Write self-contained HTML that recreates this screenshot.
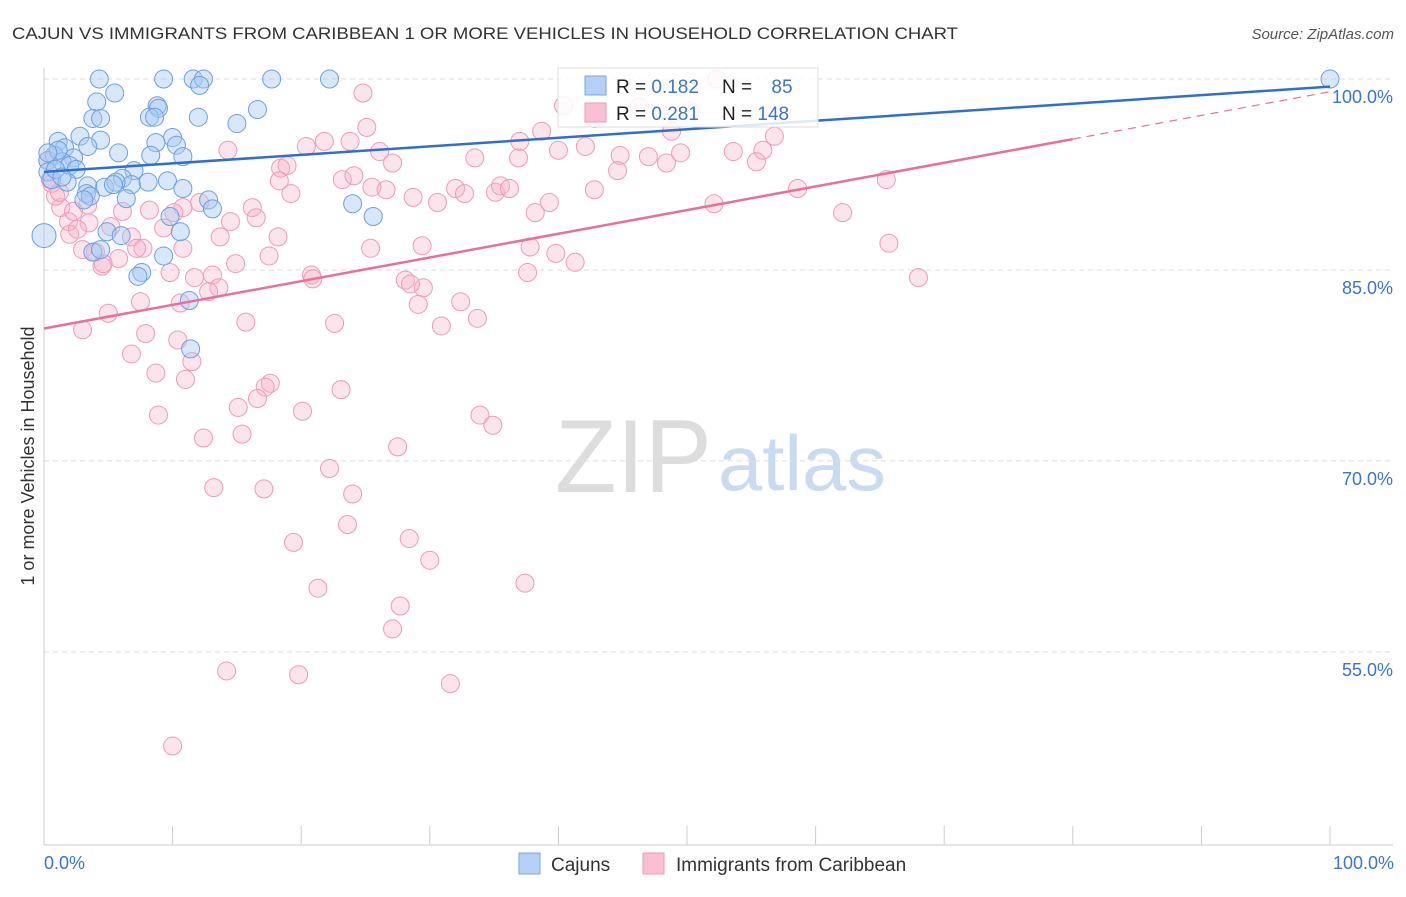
<!DOCTYPE html>
<html><head><meta charset="utf-8"><style>
body{margin:0;background:#fff;font-family:"Liberation Sans",sans-serif}
svg text{font-family:"Liberation Sans",sans-serif}
</style></head><body>
<svg id="chart" width="1406" height="892" viewBox="0 0 1406 892" xmlns="http://www.w3.org/2000/svg">
<text x="12" y="39" font-size="17" fill="#333" textLength="946" lengthAdjust="spacingAndGlyphs">CAJUN VS IMMIGRANTS FROM CARIBBEAN 1 OR MORE VEHICLES IN HOUSEHOLD CORRELATION CHART</text>
<text x="1394" y="39" font-size="15" fill="#555" font-style="italic" text-anchor="end">Source: ZipAtlas.com</text>
<text x="555" y="492" font-size="104" fill="#ddd" textLength="157" lengthAdjust="spacingAndGlyphs" font-family="Liberation Serif">ZIP</text>
<text x="718" y="490" font-size="78" fill="#c9dbf0" textLength="168" lengthAdjust="spacingAndGlyphs">atlas</text>
<g id="grid"></g>
<g id="axes"></g>
<g id="pink"></g>
<g id="blue"></g>
<g id="trends"></g>
<text transform="translate(34,456) rotate(-90)" font-size="18" fill="#333" text-anchor="middle">1 or more Vehicles in Household</text>
<text x="44" y="869" font-size="18" fill="#3a74d4">0.0%</text>
<text x="1394" y="869" font-size="18" fill="#3a74d4" text-anchor="end">100.0%</text>
<g>
<rect x="558" y="68" width="260" height="59" fill="#fff" fill-opacity="0.85" stroke="#ddd"/>
<rect x="585" y="76" width="21" height="19" fill="#b4d0f4" stroke="#7aa6e6"/>
<rect x="585" y="103" width="21" height="19" fill="#f8c0d2" stroke="#ee9ab6"/>
<text x="616" y="93" font-size="19" fill="#222">R = <tspan fill="#3a74d4">0.182</tspan></text>
<text x="722" y="93" font-size="19" fill="#222">N = <tspan fill="#3a74d4" dx="14">85</tspan></text>
<text x="616" y="120" font-size="19" fill="#222">R = <tspan fill="#3a74d4">0.281</tspan></text>
<text x="722" y="120" font-size="19" fill="#222">N = <tspan fill="#3a74d4">148</tspan></text>
</g>
<g>
<rect x="519" y="853" width="21" height="21" fill="#b4d0f4" stroke="#7aa6e6"/>
<text x="551" y="871" font-size="19" fill="#333">Cajuns</text>
<rect x="643" y="853" width="21" height="21" fill="#f8c0d2" stroke="#ee9ab6"/>
<text x="676" y="871" font-size="19" fill="#333">Immigrants from Caribbean</text>
</g>
</svg>
<script>
const yTicks=[100,85,70,55];
const yTickLabels=["100.0%","85.0%","70.0%","55.0%"];
const xTicks=[0,10,20,30,40,50,60,70,80,90,100];
const blueX=[4.3,9.3,11.6,12.4,17.7,22.2,100,5.5,4.1,8.8,8.9,12.1,16.6,8.2,8.6,3.8,4.4,12.0,15.0,10.0,4.4,8.7,10.3,1.1,2.8,3.4,1.6,5.8,8.3,10.8,0.8,2.3,0.3,1.4,2.0,2.5,7.0,6.1,4.7,3.4,6.8,8.1,9.6,10.8,5.6,5.4,0.3,0.6,1.8,3.3,6.4,12.8,13.1,24.0,25.6,9.8,10.6,4.9,6.0,0,3.8,4.4,9.3,7.6,7.3,11.3,11.4,1.1,0.9,3.6,3.1,1.4,0.3];
const blueY=[100,100,100,100,100,100,100,98.9,98.2,97.9,97.7,99.5,97.6,97.0,97.0,96.9,96.9,97.0,96.5,95.4,95.2,95.0,94.8,95.1,95.5,94.7,94.6,94.2,94.0,93.9,94.0,93.8,93.6,93.5,93.2,92.9,92.8,92.2,91.5,91.6,91.7,91.9,92.0,91.4,91.9,91.7,92.7,92.1,91.9,91.0,90.6,90.5,89.8,90.2,89.2,89.2,88.0,88.0,87.7,87.7,86.4,86.6,86.1,84.8,84.5,82.6,78.8,94.4,92.9,90.8,90.5,92.3,94.2];
const pinkX=[52.3,24.8,40.4,42.8,46.3,50.2,48.8,25.1,21.8,23.8,20.4,26.1,27.1,14.3,33.5,36.9,37.0,38.7,40.0,42.1,44.8,47.0,48.4,49.5,53.6,55.9,56.8,55.4,18.4,18.9,23.2,24.1,25.5,26.6,28.7,30.6,32.0,32.7,35.1,35.5,36.2,38.2,39.3,42.8,44.6,52.1,58.6,65.5,62.1,65.7,68.0,19.2,16.2,16.5,18.3,12.1,14.5,13.7,8.2,6.1,6.8,10.8,10.1,9.3,7.7,7.2,5.8,4.5,4.0,1.3,1.9,2.0,3.5,2.6,5.2,0.6,0.9,2.3,1.2,3.4,17.5,18.2,14.9,13.1,11.7,13.6,12.8,9.8,10.8,20.8,20.9,25.4,29.4,28.1,29.5,29.1,32.4,33.7,30.9,22.6,15.7,10.6,7.5,5.0,3.0,7.9,10.4,11.5,6.8,8.7,11.0,17.6,17.2,16.6,23.1,15.1,20.1,8.9,15.4,12.4,33.9,34.9,27.5,22.2,13.2,17.1,24.0,23.6,19.4,28.4,30.0,21.3,37.4,27.7,27.1,14.2,19.8,31.6,10.0,37.8,39.8,41.3,37.6,28.5,4.6,3.0,0.5,0.3];
const pinkY=[100,98.9,97.9,96.9,97.8,97.5,95.9,96.2,95.1,95.1,94.7,94.3,93.4,94.4,93.8,93.8,95.1,95.9,94.4,94.7,94.0,93.9,93.4,94.2,94.3,94.4,95.5,93.5,93.0,93.2,92.1,92.4,91.5,91.3,90.7,90.3,91.4,91.0,91.1,91.6,91.4,89.5,90.3,91.3,92.8,90.2,91.4,92.1,89.5,87.1,84.4,91.0,89.9,89.1,92.0,90.3,88.8,87.6,89.7,89.6,87.6,89.9,89.5,88.3,86.7,86.7,85.9,85.3,86.4,89.9,88.8,87.8,88.7,88.2,88.4,91.8,90.8,89.6,91.1,90.1,86.1,87.6,85.5,84.6,84.4,83.6,83.3,84.8,86.7,84.6,84.3,86.7,86.9,84.2,83.6,82.3,82.5,81.2,80.6,80.8,80.9,82.4,82.5,81.6,80.3,80.0,79.5,77.8,78.4,76.9,76.4,76.1,75.8,74.9,75.6,74.2,73.9,73.6,72.1,71.8,73.6,72.8,71.1,69.4,67.9,67.8,67.4,65.0,63.6,63.9,62.2,60.0,60.4,58.6,56.8,53.5,53.2,52.5,47.6,86.8,86.3,85.6,84.8,83.9,85.5,86.6,92.1,93.6];
const blueTrend=[92.7,99.4];
const pinkTrend=[80.4,99.0];
const pinkSolidEnd=80;

const NS="http://www.w3.org/2000/svg";
const X=v=>44+v*12.86;
const Y=v=>79+(100-v)*12.73;
function mk(tag,attrs,parent){const e=document.createElementNS(NS,tag);for(const k in attrs)e.setAttribute(k,attrs[k]);parent.appendChild(e);return e;}
const grid=document.getElementById('grid'),axes=document.getElementById('axes');
yTicks.forEach((t,i)=>{
  const l=mk('line',{x1:44,x2:1393,y1:Y(t),y2:Y(t),stroke:'#ddd','stroke-dasharray':'5,4'},grid);
  
  
  const tx=mk('text',{x:1393,y:Y(t)+24,'font-size':18,fill:'#3a74d4','text-anchor':'end'},grid);
  tx.textContent=yTickLabels[i];
  
  
});
const ax=mk('line',{x1:44,x2:44,y1:68,y2:845,stroke:'#ccc'},axes);


const bx=mk('line',{x1:44,x2:1393,y1:845,y2:845,stroke:'#ccc'},axes);


xTicks.forEach(t=>{
  const l=mk('line',{x1:X(t),x2:X(t),y1:826,y2:845,stroke:'#ccc'},axes);
  
  
});
const pg=document.getElementById('pink');
pinkX.forEach((x,i)=>{
  const c=mk('circle',{cx:X(x),cy:Y(pinkY[i]),r:9,fill:'#f6b3c8','fill-opacity':0.35,stroke:'#ee9ab6','stroke-width':1},pg);
  
  
});
const bg=document.getElementById('blue');
blueX.forEach((x,i)=>{
  const c=mk('circle',{cx:X(x),cy:Y(blueY[i]),r:(x===0?12:9),fill:'#a9c9f2','fill-opacity':0.45,stroke:'#6d9fe2','stroke-width':1},bg);
  
  
});
const tg=document.getElementById('trends');
const pAt=v=>pinkTrend[0]+(pinkTrend[1]-pinkTrend[0])*v/100;
const pd=mk('line',{x1:X(pinkSolidEnd),y1:Y(pAt(pinkSolidEnd)),x2:X(100),y2:Y(pAt(100)),stroke:'#e8709a','stroke-width':1.2,'stroke-dasharray':'8,6'},tg);


const ps=mk('line',{x1:X(0),y1:Y(pAt(0)),x2:X(pinkSolidEnd),y2:Y(pAt(pinkSolidEnd)),stroke:'#e8709a','stroke-width':2.5},tg);


const bl=mk('line',{x1:X(0),y1:Y(blueTrend[0]),x2:X(100),y2:Y(blueTrend[1]),stroke:'#2f6fd0','stroke-width':2.5},tg);


</script>
</body></html>
